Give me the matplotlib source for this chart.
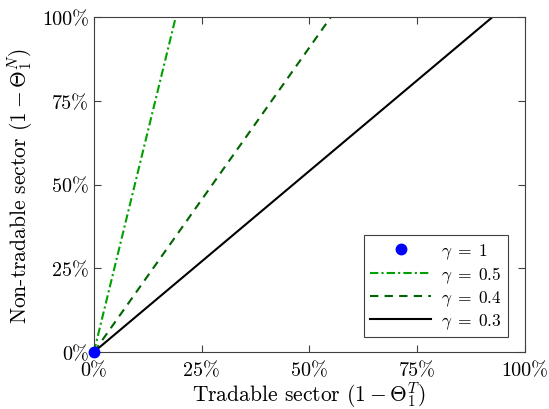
import matplotlib.pyplot as plt
import numpy as np

plt.rcParams['font.family'] = 'serif'
plt.rcParams['font.serif'] = ['cmr10']
plt.rcParams['mathtext.fontset'] = 'cm'
plt.rcParams['axes.formatter.use_mathtext'] = True

# Datos: cada recta parte del origen y llega al 100% en x_fin
gammas = ['0.5', '0.4', '0.3']
x_fin = [19.0, 55.0, 92.5]
estilos = [(0, (4, 1.5, 1, 1.5)), (0, (4, 3)), '-']
colores = ['#00a000', '#006400', 'black']
ticks = [0, 25, 50, 75, 100]
tick_labels = ['0%', '25%', '50%', '75%', '100%']

fig = plt.figure(figsize=(5.49, 4.10), dpi=100)
ax = fig.add_axes([0.171, 0.139, 0.785, 0.817])

ax.plot([0], [0], 'o', color='blue', markersize=7.5, clip_on=False, zorder=5,
        label=r'$\gamma\;=\;1$')
for g, xf, ls, c in zip(gammas, x_fin, estilos, colores):
    ax.plot([0, xf], [0, 100], linestyle=ls, color=c, linewidth=1.5,
            label=r'$\gamma\;=\;%s$' % g)

ax.set_xlim(0, 100)
ax.set_ylim(0, 100)
ax.set_xticks(ticks)
ax.set_xticklabels(tick_labels)
ax.set_yticks(ticks)
ax.set_yticklabels(tick_labels)
ax.tick_params(direction='in', top=True, right=True, labelsize=14.5,
               length=5, color='#404040')
ax.tick_params(axis='x', pad=7)
for s in ax.spines.values():
    s.set_color('#404040')

ax.set_xlabel(r'Tradable sector $(1-\Theta_1^T)$', fontsize=15.5, labelpad=0)
ax.set_ylabel(r'Non-tradable sector $(1-\Theta_1^N)$', fontsize=15.5, labelpad=5)

leg = ax.legend(loc='lower right', bbox_to_anchor=(0.961, 0.045),
                fontsize=12.5, fancybox=False,
                edgecolor='#404040', framealpha=1, handlelength=3.5,
                borderaxespad=0, labelspacing=0.2, handletextpad=0.6,
                borderpad=0.35)
leg.get_frame().set_linewidth(0.8)

plt.savefig('out.png', dpi=100)
